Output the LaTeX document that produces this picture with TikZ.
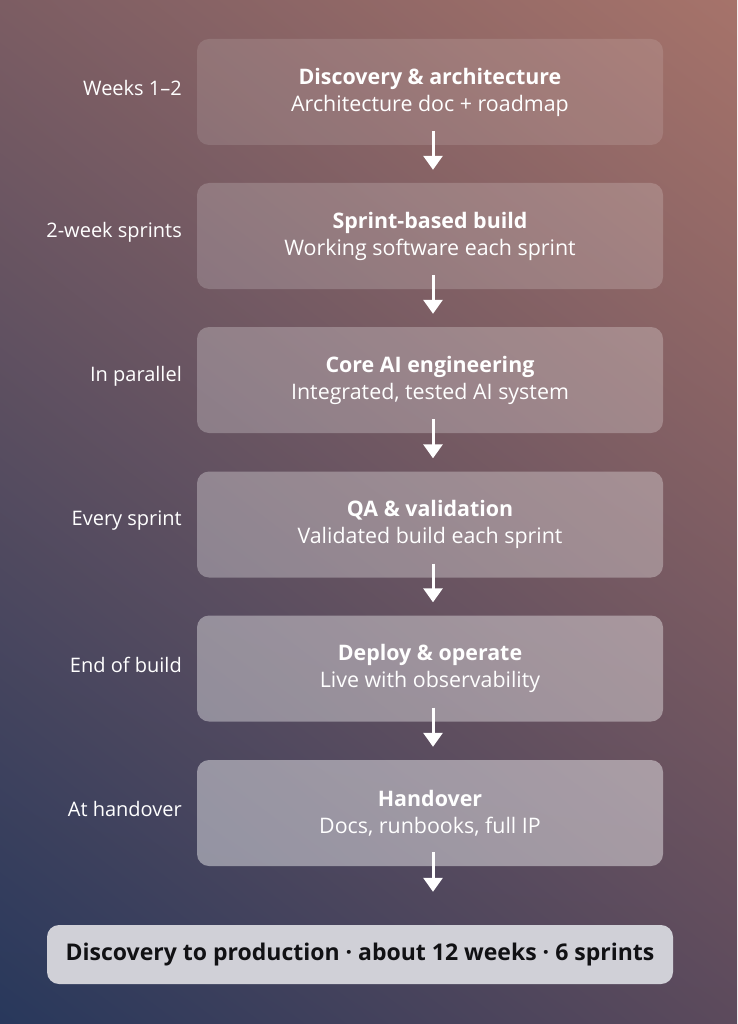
\documentclass[tikz,border=0pt]{standalone}
\usepackage{fontspec}
\setmainfont{Open Sans}
\usetikzlibrary{arrows.meta,shadings}
\definecolor{bgTL}{RGB}{124,93,99}
\definecolor{bgTR}{RGB}{166,115,106}
\definecolor{bgBL}{RGB}{40,56,92}
\definecolor{bgBR}{RGB}{92,74,92}
\definecolor{finalfill}{RGB}{208,208,215}
\definecolor{finaltext}{RGB}{17,17,20}
\begin{document}
\begin{tikzpicture}[x=1pt,y=-1pt,
  stagebox/.style={rounded corners=12pt, minimum width=466pt, minimum height=106pt,
    fill=white, text=white, align=center, inner sep=0pt,
    font=\fontsize{21.4}{27}\selectfont},
  sidelabel/.style={anchor=east, text=white, inner sep=0pt, font=\fontsize{20}{24}\selectfont},
  flowarrow/.style={draw=white, line width=3pt, -{Triangle[width=19pt,length=14pt]}},
  finalbox/.style={rounded corners=12pt, minimum width=626pt, minimum height=59pt,
    fill=finalfill, text=finaltext, inner sep=0pt,
    font=\fontsize{23}{27}\selectfont\bfseries}
]
\shade[upper left=bgTL, upper right=bgTR, lower left=bgBL, lower right=bgBR] (0,0) rectangle (737,1024);
\useasboundingbox (0,0) rectangle (737,1024);

\node[stagebox, fill opacity=0.12, text opacity=1] (b1) at (430,92)
  {{\bfseries Discovery \& architecture}\\Architecture doc + roadmap};
\node[stagebox, fill opacity=0.18, text opacity=1] (b2) at (430,236)
  {{\bfseries Sprint-based build}\\Working software each sprint};
\node[stagebox, fill opacity=0.25, text opacity=1] (b3) at (430,380)
  {{\bfseries Core AI engineering}\\Integrated, tested AI system};
\node[stagebox, fill opacity=0.31, text opacity=1] (b4) at (430,524.5)
  {{\bfseries QA \& validation}\\Validated build each sprint};
\node[stagebox, fill opacity=0.38, text opacity=1] (b5) at (430,668.5)
  {{\bfseries Deploy \& operate}\\Live with observability};
\node[stagebox, fill opacity=0.43, text opacity=1] (b6) at (430,813)
  {{\bfseries Handover}\\Docs, runbooks, full IP};

\node[sidelabel] (l1) at (182,88) {Weeks 1–2};
\node[sidelabel] (l2) at (182,232) {2-week sprints};
\node[sidelabel] (l3) at (182,376) {In parallel};
\node[sidelabel] (l4) at (182,521) {Every sprint};
\node[sidelabel] (l5) at (182,665) {End of build};
\node[sidelabel] (l6) at (182,809) {At handover};

\node[finalbox] (fin) at (360,954.5) {Discovery to production · about 12 weeks · 6 sprints};

\draw[flowarrow] ([xshift=3pt,yshift=14pt]b1.south) -- ([xshift=3pt,yshift=13pt]b2.north);
\draw[flowarrow] ([xshift=3pt,yshift=14pt]b2.south) -- ([xshift=3pt,yshift=13pt]b3.north);
\draw[flowarrow] ([xshift=3pt,yshift=14pt]b3.south) -- ([xshift=3pt,yshift=13pt]b4.north);
\draw[flowarrow] ([xshift=3pt,yshift=14pt]b4.south) -- ([xshift=3pt,yshift=13pt]b5.north);
\draw[flowarrow] ([xshift=3pt,yshift=14pt]b5.south) -- ([xshift=3pt,yshift=13pt]b6.north);
\draw[flowarrow] ([xshift=3pt,yshift=14pt]b6.south) -- ([xshift=3pt,yshift=33pt]fin.north -| b6.south);
\end{tikzpicture}
\end{document}
